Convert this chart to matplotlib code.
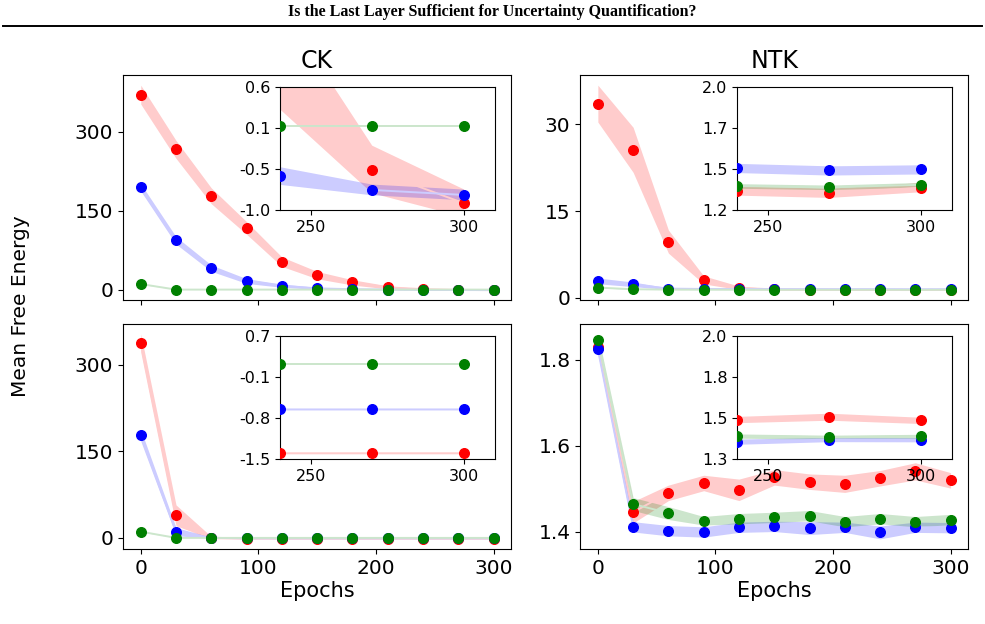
import numpy as np
import matplotlib
matplotlib.use("Agg")
import matplotlib.pyplot as plt
from matplotlib.colors import to_rgb
from matplotlib.lines import Line2D

epochs = [0, 30, 60, 90, 120, 150, 180, 210, 240, 270, 300]

# CK, top row
ck1_red = [370, 266, 178, 117, 53, 27.6, 13.8, 4.4, 0.99, -0.47, -0.91]
ck1_red_std = [18, 17, 15, 12, 9, 7, 5, 3, 0.68, 0.31, 0.18]
ck1_blue = [194, 93.4, 40.7, 16.3, 7.5, 2.5, 0.8, 0.2, -0.555, -0.736, -0.801]
ck1_blue_std = [7, 7, 6, 4.5, 3, 2, 1, 0.4, 0.115, 0.07, 0.07]
ck1_green = [10.7, 0.1, 0.1, 0.1, 0.1, 0.1, 0.1, 0.1, 0.1, 0.1, 0.1]
ck1_green_std = [0.3, 0.005, 0.005, 0.005, 0.005, 0.005, 0.005, 0.005, 0.005, 0.005, 0.005]

# NTK, top row
ntk1_red = [33.6, 25.6, 9.7, 3.07, 1.7, 1.42, 1.36, 1.34, 1.325, 1.31, 1.347]
ntk1_red_std = [3.2, 3.9, 2.0, 0.7, 0.3, 0.1, 0.05, 0.04, 0.03, 0.03, 0.03]
ntk1_blue = [2.9, 2.3, 1.56, 1.5, 1.49, 1.48, 1.48, 1.47, 1.475, 1.459, 1.466]
ntk1_blue_std = [0.5, 0.4, 0.15, 0.05, 0.03, 0.03, 0.03, 0.03, 0.03, 0.03, 0.03]
ntk1_green = [1.74, 1.45, 1.40, 1.38, 1.37, 1.36, 1.36, 1.36, 1.358, 1.349, 1.366]
ntk1_green_std = [0.05, 0.03, 0.02, 0.015, 0.015, 0.015, 0.015, 0.015, 0.015, 0.015, 0.015]

# CK, bottom row
ck2_red = [337.5, 39.2, 0.5, -1.3, -1.4, -1.43, -1.44, -1.44, -1.44, -1.44, -1.44]
ck2_red_std = [16, 18, 2, 0.05, 0.02, 0.01, 0.01, 0.01, 0.01, 0.01, 0.01]
ck2_blue = [177.7, 11, 0.3, -0.55, -0.62, -0.64, -0.645, -0.648, -0.648, -0.648, -0.648]
ck2_blue_std = [10, 7, 1, 0.02, 0.01, 0.01, 0.01, 0.01, 0.01, 0.01, 0.01]
ck2_green = [11, 0.2, 0.18, 0.178, 0.178, 0.178, 0.178, 0.178, 0.178, 0.178, 0.178]
ck2_green_std = [0.3, 0.01, 0.01, 0.01, 0.01, 0.01, 0.01, 0.01, 0.01, 0.01, 0.01]

# NTK, bottom row
ntk2_red = [1.83, 1.445, 1.49, 1.513, 1.497, 1.526, 1.516, 1.511, 1.524, 1.54, 1.519]
ntk2_red_std = [0.01, 0.025, 0.018, 0.018, 0.025, 0.018, 0.018, 0.02, 0.018, 0.02, 0.018]
ntk2_blue = [1.824, 1.411, 1.402, 1.399, 1.41, 1.412, 1.408, 1.41, 1.398, 1.41, 1.409]
ntk2_blue_std = [0.01, 0.012, 0.012, 0.012, 0.012, 0.012, 0.015, 0.012, 0.015, 0.012, 0.012]
ntk2_green = [1.845, 1.464, 1.443, 1.425, 1.43, 1.433, 1.437, 1.423, 1.43, 1.423, 1.428]
ntk2_green_std = [0.015, 0.015, 0.015, 0.01, 0.012, 0.012, 0.012, 0.012, 0.012, 0.012, 0.012]

main_yticks = [[0, 150, 300], [0, 15, 30], [0, 150, 300], [1.4, 1.6, 1.8]]
inset_ylims = [(-1.0, 0.6), (1.2, 2.0), (-1.54, 0.68), (1.3, 2.0)]
col_titles = ["CK", "NTK"]

colors = ["red", "blue", "green"]


def light(c, a=0.2):
    # colour of c at alpha a over white, opaque
    return tuple(1 - a + a * v for v in to_rgb(c))


def draw_series(ax, series, size):
    for (m, s), c in zip(series, colors):
        m = np.array(m)
        s = np.array(s)
        ax.fill_between(epochs, m - s, m + s, color=c, alpha=0.2, lw=0, zorder=2)
        # same tint as the band, so it only shows where the band is thin
        ax.plot(epochs, m, color=light(c), lw=1.4, zorder=2.5)
        ax.scatter(epochs, m, color=c, s=size, zorder=3)


fig, axes = plt.subplots(2, 2, figsize=(9.85, 6.24), dpi=100, sharex=True)
fig.subplots_adjust(left=0.125, right=0.983, top=0.88, bottom=0.12,
                    wspace=0.178, hspace=0.102)

panels = [
    [(ck1_red, ck1_red_std), (ck1_blue, ck1_blue_std), (ck1_green, ck1_green_std)],
    [(ntk1_red, ntk1_red_std), (ntk1_blue, ntk1_blue_std), (ntk1_green, ntk1_green_std)],
    [(ck2_red, ck2_red_std), (ck2_blue, ck2_blue_std), (ck2_green, ck2_green_std)],
    [(ntk2_red, ntk2_red_std), (ntk2_blue, ntk2_blue_std), (ntk2_green, ntk2_green_std)],
]

for i, ax in enumerate(axes.flat):
    draw_series(ax, panels[i], 48)
    ax.set_yticks(main_yticks[i])
    ax.set_xticks([0, 100, 200, 300])
    ax.tick_params(labelsize=14.5)
    if i < 2:
        ax.set_title(col_titles[i], fontsize=17, pad=5)
    else:
        ax.set_xlabel("Epochs", fontsize=15, labelpad=2)

    # zoom on the last epochs
    ins = ax.inset_axes([0.405, 0.4, 0.553, 0.545])
    draw_series(ins, panels[i], 48)
    ins.set_xlim(240, 310)
    lo, hi = inset_ylims[i]
    ins.set_ylim(lo, hi)
    ticks = np.linspace(lo, hi, 4)
    ins.set_yticks(ticks)
    ins.set_yticklabels(["%.1f" % t for t in ticks])
    ins.set_xticks([250, 300])
    ins.tick_params(labelsize=11.5)

fig.text(0.021, 0.51, "Mean Free Energy", rotation=90, ha="center", va="center",
         fontsize=14.5)

# page header above the figure
fig.text(0.5, 1 - 12 / 624, "Is the Last Layer Sufficient for Uncertainty Quantification?",
         ha="center", va="center", fontsize=11.5, fontweight="bold",
         family="Liberation Serif")
fig.add_artist(Line2D([0.003, 0.997], [1 - 26 / 624, 1 - 26 / 624], color="black", lw=1.4))

fig.savefig("out.png", dpi=100)
